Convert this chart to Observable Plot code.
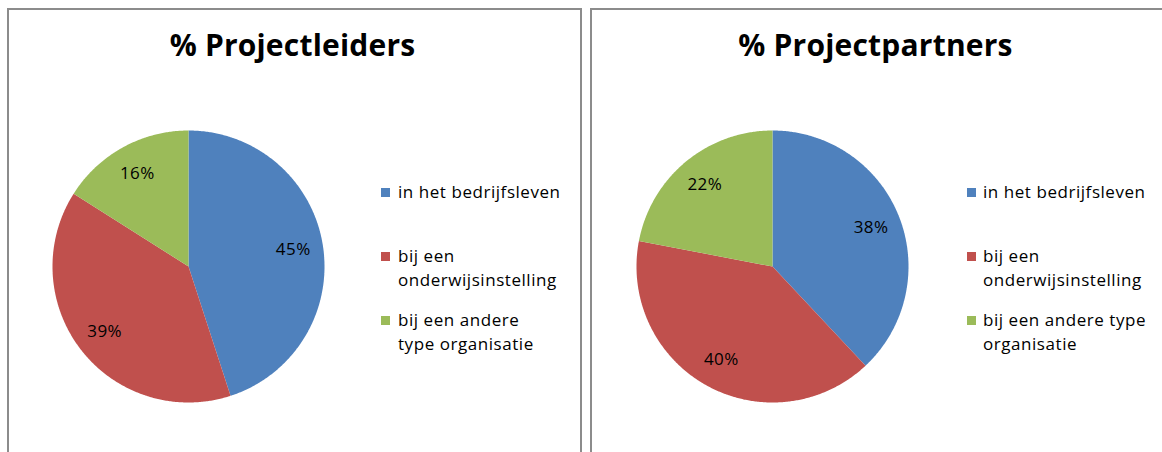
<!DOCTYPE html>
<html>
<head>
<meta charset="utf-8">
<script src="https://cdn.jsdelivr.net/npm/d3@7"></script>
<script src="https://cdn.jsdelivr.net/npm/@observablehq/plot@0.6"></script>
<style>
  html, body { margin: 0; padding: 0; background: #fff; }
  body { width: 1162px; height: 452px; overflow: hidden; position: relative; font-family: "Open Sans", sans-serif; color: #000; }
  .panel { position: absolute; top: 8px; height: 470px; box-sizing: border-box; border: 2px solid #8c8c8c; background: #fff; }
  .title { position: absolute; top: 30px; text-align: center; font-weight: 700; font-size: 30px; line-height: 30px; letter-spacing: 0.2px; white-space: nowrap; }
  .pie { position: absolute; top: 120px; width: 300px; height: 300px; }
  .leg { position: absolute; font-size: 17px; line-height: 24px; letter-spacing: 0.55px; white-space: nowrap; }
  .sw { position: absolute; width: 9px; height: 9px; }
</style>
</head>
<body>
<script>
// ---- data ----
const categories = ["in het bedrijfsleven", "bij een onderwijsinstelling", "bij een andere type organisatie"];
const colors = ["#4F81BD", "#C0504D", "#9BBB59"];
const leidersValues = [45, 39, 16];
const partnersValues = [38, 40, 22];
const titles = ["% Projectleiders", "% Projectpartners"];
const legendLinesLeft = [["in het bedrijfsleven"], ["bij een", "onderwijsinstelling"], ["bij een andere", "type organisatie"]];
const legendLinesRight = [["in het bedrijfsleven"], ["bij een", "onderwijsinstelling"], ["bij een andere type", "organisatie"]];

const panels = [
  {values: leidersValues, title: titles[0], legend: legendLinesLeft, panelLeft: 7, panelWidth: 575, pieLeft: 40, swLeft: 381, txtLeft: 398},
  {values: partnersValues, title: titles[1], legend: legendLinesRight, panelLeft: 590, panelWidth: 590, pieLeft: 624, swLeft: 967, txtLeft: 983}
];

function slices(values) {
  const total = d3.sum(values);
  let acc = 0;
  return values.map((v, i) => {
    const a0 = acc / total * 2 * Math.PI;
    acc += v;
    const a1 = acc / total * 2 * Math.PI;
    return {cat: categories[i], value: v, a0, a1};
  });
}

function arcPoints(sl) {
  const pts = [];
  for (const s of sl) {
    pts.push({cat: s.cat, x: 0, y: 0});
    const n = Math.max(2, Math.ceil((s.a1 - s.a0) / (Math.PI / 360)));
    for (let k = 0; k <= n; k++) {
      const a = s.a0 + (s.a1 - s.a0) * k / n;
      pts.push({cat: s.cat, x: Math.sin(a), y: Math.cos(a)});
    }
    pts.push({cat: s.cat, x: 0, y: 0});
  }
  return pts;
}

for (const p of panels) {
  const panel = document.createElement("div");
  panel.className = "panel";
  panel.style.left = p.panelLeft + "px";
  panel.style.width = p.panelWidth + "px";
  document.body.appendChild(panel);

  const t = document.createElement("div");
  t.className = "title";
  t.style.left = p.panelLeft + "px";
  t.style.width = "571px";
  t.textContent = p.title;
  document.body.appendChild(t);

  const sl = slices(p.values);
  const labels = sl.map(s => {
    const m = (s.a0 + s.a1) / 2;
    return {x: 0.78 * Math.sin(m), y: 0.78 * Math.cos(m), text: s.value + "%"};
  });

  const chart = Plot.plot({
    width: 300, height: 300,
    marginLeft: 12, marginRight: 16, marginTop: 10, marginBottom: 18,
    x: {domain: [-1, 1], axis: null},
    y: {domain: [-1, 1], axis: null},
    color: {domain: categories, range: colors},
    style: {background: "transparent", overflow: "visible", fontFamily: "Open Sans"},
    marks: [
      Plot.line(arcPoints(sl), {x: "x", y: "y", z: "cat", fill: "cat", stroke: "none"}),
      Plot.text(labels, {x: "x", y: "y", text: "text", fontSize: 17, fill: "#000", style: "letter-spacing:0.5px"})
    ]
  });
  chart.querySelectorAll("text").forEach(e => e.style.letterSpacing = "0.5px");
  const wrap = document.createElement("div");
  wrap.className = "pie";
  wrap.style.left = p.pieLeft + "px";
  wrap.appendChild(chart);
  document.body.appendChild(wrap);

  p.legend.forEach((lines, i) => {
    const top = 180 + i * 64;
    const sw = document.createElement("div");
    sw.className = "sw";
    sw.style.left = p.swLeft + "px";
    sw.style.top = (top + 8) + "px";
    sw.style.background = colors[i];
    document.body.appendChild(sw);
    const lg = document.createElement("div");
    lg.className = "leg";
    lg.style.left = p.txtLeft + "px";
    lg.style.top = top + "px";
    lg.innerHTML = lines.map(l => l.replace(/&/g, "&amp;")).join("<br>");
    document.body.appendChild(lg);
  });
}
</script>
</body>
</html>
